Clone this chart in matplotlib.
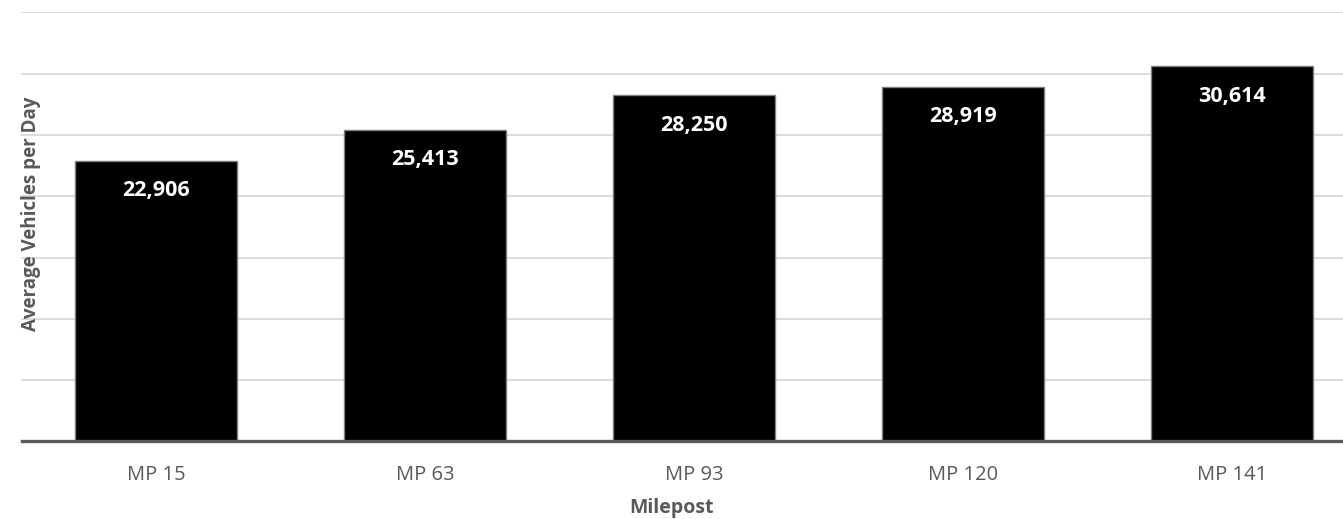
import matplotlib
matplotlib.use("Agg")
import matplotlib.pyplot as plt
from matplotlib.ticker import MultipleLocator

# Average daily traffic by milepost
mileposts = ["MP 15", "MP 63", "MP 93", "MP 120", "MP 141"]
vehicles = [22906, 25413, 28250, 28919, 30614]

plt.rcParams["font.family"] = ["Open Sans", "DejaVu Sans"]

W, H, DPI = 1343, 519, 100
fig = plt.figure(figsize=(W / DPI, H / DPI), dpi=DPI)

ax_left, ax_right = 21.5, 1366.5
ax_top, ax_bottom = 12.3, 441.4
ax = fig.add_axes([ax_left / W, 1 - ax_bottom / H,
                   (ax_right - ax_left) / W, (ax_bottom - ax_top) / H])

x = range(len(mileposts))
bars = ax.bar(x, vehicles, width=0.6, color="black", edgecolor="#7f7f7f",
              linewidth=1.0, zorder=3)

for rect, v in zip(bars, vehicles):
    ax.annotate(f"{v:,}", xy=(rect.get_x() + rect.get_width() / 2, v),
                xytext=(0, -30), textcoords="offset pixels",
                ha="center", va="center", color="white",
                fontsize=15.5, fontweight="bold", zorder=4)

ax.set_xlim(-0.5, len(mileposts) - 0.5)
ax.set_ylim(0, 35000)
ax.yaxis.set_major_locator(MultipleLocator(5000))
ax.grid(axis="y", color="#d9d9d9", linewidth=1.3, zorder=0)
ax.set_yticklabels([])
ax.tick_params(axis="y", length=0)
ax.tick_params(axis="x", length=0, pad=17, labelsize=14.5, labelcolor="#595959")
ax.set_xticks(list(x))
ax.set_xticklabels(mileposts)

for side in ("top", "right", "left"):
    ax.spines[side].set_visible(False)
ax.spines["bottom"].set_color("#595959")
ax.spines["bottom"].set_linewidth(2.4)
ax.spines["bottom"].set_zorder(5)

fig.text(0.5, 1 - 508 / H, "Milepost", ha="center", va="center",
         fontsize=14, fontweight="bold", color="#595959")
fig.text(31 / W, 1 - 214 / H, "Average Vehicles per Day", rotation=90,
         ha="center", va="center", fontsize=13.5, fontweight="bold",
         color="#595959", zorder=0)

fig.savefig("out.png", dpi=DPI)
